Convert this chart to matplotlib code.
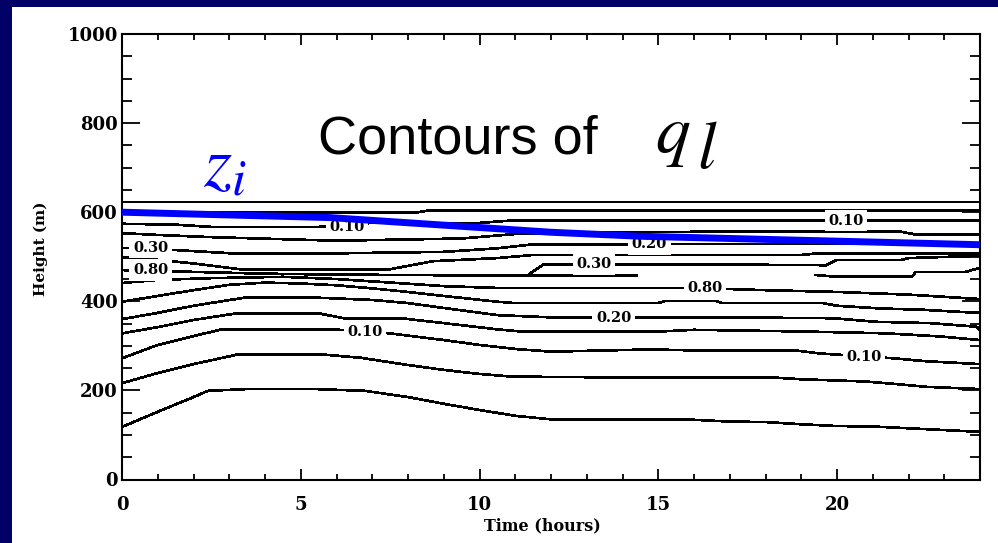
import matplotlib
matplotlib.use("Agg")
import matplotlib.pyplot as plt
from matplotlib.patches import Rectangle
from matplotlib.ticker import MultipleLocator

W, H, DPI = 998, 543, 100
NAVY = "#000066"
ZI_BLUE = "#0000ff"

plt.rcParams["mathtext.fontset"] = "stix"

# ---- contour lines of liquid water: time (hours) and height (m) ----
top_t = [0, 24]
top_z = [623, 623]

c2_t = [0, 8.3, 8.6, 24]
c2_z = [600, 600, 604, 604]

c3_t = [0, 1.5, 2.5, 5.5, 7, 10, 11, 24]
c3_z = [574, 572, 567, 567, 576, 576, 582, 581]

c4_t = [0, 1, 2.5, 6, 9.5, 11, 13, 16, 21.8, 22.2, 24]
c4_z = [553, 549, 544, 536, 541, 551, 554, 556, 556, 550, 550]

c5_t = [0, 1.5, 3, 6.3, 9, 10.5, 11.5, 24]
c5_z = [520, 515, 508, 508, 511, 519, 528, 529]

c6_t = [0, 1, 2, 3.3, 7.5, 8.7, 10.5, 11.5, 19, 19.5, 24]
c6_z = [499, 493, 485, 472, 472, 490, 497, 504, 504, 508, 508]

c7_t = [0, 2, 4, 6, 8, 10, 12, 14.4]
c7_z = [470, 466, 462, 460, 459, 458, 458, 458]

c8_t = [11.4, 11.8, 15.9, 19.7, 20, 21.8, 22, 24]
c8_z = [462, 483, 483, 481, 493, 493, 497, 502]

c9_t = [19.4, 20, 22.1, 22.2, 23.6, 24]
c9_z = [459, 455, 455, 466, 466, 475]

c10_t = [0, 1, 2.5, 4.5, 6, 7.7, 9, 10.5, 13, 16, 18, 20, 22, 24]
c10_z = [441, 448, 452, 455, 450, 441, 434, 430, 430, 430, 425, 421, 415, 405]

c11_t = [0, 1, 2, 3, 4, 5, 6, 7, 8, 9, 10.5, 11, 15, 15.2, 16.6, 16.8, 19.6, 20, 21.2, 22.4, 23.5, 24]
c11_z = [399, 412, 425, 437, 442, 440, 436, 429, 421, 412, 399, 396, 396, 401, 401, 396, 396, 390, 384, 381, 376, 374]

c12_t = [0, 1, 2, 3.5, 5.2, 7, 8, 9, 10.5, 12, 16.7, 19.9, 21.1, 22.6, 23.9, 24]
c12_z = [360, 374, 390, 409, 409, 403, 396, 385, 369, 364, 364, 362, 354, 351, 343, 336]

c13_t = [0, 1, 2, 3.2, 5.5, 6.2, 7.8, 9, 10.5, 11.2, 15, 16, 19.2, 21.4, 22.9, 24]
c13_z = [328, 342, 358, 373, 373, 362, 362, 351, 337, 332, 332, 336, 332, 328, 321, 313]

c14_t = [0, 1, 2, 2.8, 5.9, 7.5, 9, 10, 11, 12, 14.8, 16.4, 18.9, 19.5, 21, 21.6, 22.4, 23.3, 24]
c14_z = [272, 302, 322, 337, 337, 328, 313, 302, 293, 287, 292, 289, 289, 283, 275, 272, 266, 262, 259]

c15_t = [0, 1, 2, 3.2, 5.7, 6.7, 8, 9, 10, 10.9, 14, 18.2, 19, 20.8, 21.7, 22.5, 24]
c15_z = [216, 239, 259, 280, 280, 273, 257, 246, 237, 231, 229, 229, 225, 220, 214, 208, 203]

c16_t = [0, 1, 2, 2.4, 3.5, 5.4, 6.8, 8, 9, 10, 11, 12, 14, 16, 17, 18, 19, 20, 21, 22, 23, 24]
c16_z = [118, 152, 185, 199, 203, 203, 199, 185, 170, 156, 143, 135, 134, 134, 130, 129, 124, 120, 119, 115, 111, 107]

contour_lines = [
    (top_t, top_z), (c2_t, c2_z), (c3_t, c3_z), (c4_t, c4_z), (c5_t, c5_z),
    (c6_t, c6_z), (c7_t, c7_z), (c8_t, c8_z), (c9_t, c9_z), (c10_t, c10_z),
    (c11_t, c11_z), (c12_t, c12_z), (c13_t, c13_z), (c14_t, c14_z),
    (c15_t, c15_z), (c16_t, c16_z),
]

# inline contour labels
label_text = ["0.10", "0.10", "0.30", "0.80", "0.20", "0.30", "0.80", "0.20", "0.10", "0.10"]
label_time = [6.3, 20.25, 0.8, 0.8, 14.75, 13.2, 16.3, 13.75, 6.8, 20.75]
label_height = [566, 581, 520, 470, 528, 483, 430, 363, 332, 274]

# inversion height z_i
zi_time = [0, 5.8, 12, 14.5, 24]
zi_height = [600, 588, 555, 546, 527]

x_ticks = [0, 5, 10, 15, 20]
y_ticks = [0, 200, 400, 600, 800, 1000]

# ---- figure ----
fig = plt.figure(figsize=(W / DPI, H / DPI), dpi=DPI, facecolor=NAVY)
panel = Rectangle((12 / W, 0), 1 - 12 / W, 1 - 7 / H,
                  transform=fig.transFigure, facecolor="white",
                  edgecolor="none", zorder=-10)
fig.add_artist(panel)

ax = fig.add_axes([122 / W, 1 - 479.5 / H, 858 / W, 445.5 / H])
ax.set_zorder(1)
ax.set_facecolor("white")
ax.set_xlim(0, 24)
ax.set_ylim(0, 1000)

for t, z in contour_lines:
    ax.plot(t, z, color="black", lw=1.2, antialiased=False, zorder=2,
            solid_joinstyle="miter")

serif = "DejaVu Serif"
for s, t, z in zip(label_text, label_time, label_height):
    ax.text(t, z, s, ha="center", va="center", family=serif, weight="bold",
            fontsize=10.5, zorder=3,
            bbox=dict(boxstyle="square,pad=0.25", facecolor="white",
                      edgecolor="none"))

ax.plot(zi_time, zi_height, color=ZI_BLUE, lw=5, solid_capstyle="butt",
        zorder=4)

# axes frame and ticks
for sp in ax.spines.values():
    sp.set_linewidth(1.5)
ax.set_xticks(x_ticks)
ax.set_yticks(y_ticks)
ax.xaxis.set_minor_locator(MultipleLocator(1))
ax.yaxis.set_minor_locator(MultipleLocator(50))
ax.tick_params(axis="x", which="major", direction="in", length=8, width=1.3,
               top=True, pad=12)
ax.tick_params(axis="x", which="minor", direction="in", length=4.3, width=1.3,
               top=True)
ax.tick_params(axis="y", which="major", direction="in", length=13, width=1.3,
               right=True, pad=3)
ax.tick_params(axis="y", which="minor", direction="in", length=7, width=1.3,
               right=True)
for lab in ax.get_xticklabels() + ax.get_yticklabels():
    lab.set_family(serif)
    lab.set_weight("bold")
    lab.set_fontsize(13)

ax.set_xlabel("Time (hours)", family=serif, weight="bold", fontsize=11.5)
ax.set_ylabel("Height (m)", family=serif, weight="bold", fontsize=11)
ax.xaxis.set_label_coords(0.49, -0.084)
ax.yaxis.set_label_coords(-0.086, 0.517)

# title and z_i annotation
fig.text(318 / W, 1 - 153 / H, "Contours of", family="Liberation Sans",
         fontsize=39, ha="left", va="baseline", color="black", zorder=5)
fig.text(655 / W, 1 - 153 / H, r"$q$", fontsize=50, ha="left",
         va="baseline", color="black", zorder=5)
fig.text(697 / W, 1 - 168 / H, r"$l$", fontsize=48, ha="left",
         va="baseline", color="black", zorder=5)
fig.text(203 / W, 1 - 186 / H, r"$z_i$", fontsize=52, ha="left",
         va="baseline", color=ZI_BLUE, zorder=5)

fig.savefig("out.png", dpi=DPI, facecolor=NAVY)
